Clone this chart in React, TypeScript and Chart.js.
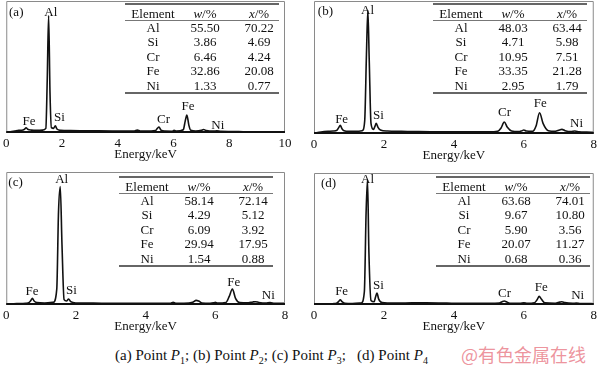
import React, { useEffect, useRef } from "react";
import { Chart, registerables } from "chart.js";

Chart.register(...registerables);

const FONT = "'Times New Roman', 'Liberation Serif', Times, 'Noto Serif', serif";

// ---------- spectra (energy in keV, intensity in % of panel height) ----------
const energyA = [0, 0.15, 0.3, 0.45, 0.6, 0.66, 0.71, 0.77, 0.9, 1.1, 1.3, 1.42, 1.47, 1.52, 1.57, 1.62, 1.7, 1.76, 1.82, 1.95, 2.3, 2.8, 3.3, 3.8, 4.3, 4.6, 4.7, 4.8, 5.0, 5.35, 5.42, 5.48, 5.55, 5.7, 5.95, 6.02, 6.1, 6.35, 6.42, 6.48, 6.55, 6.62, 6.8, 7.0, 7.08, 7.18, 7.45, 7.55, 7.7, 8.5, 9.2, 10];
const countsA = [0.3, 1.0, 1.5, 2.0, 2.3, 3.0, 4.0, 2.8, 2.2, 2.0, 2.2, 3.5, 40, 89, 30, 4, 3.5, 5.5, 3.0, 2.0, 1.8, 1.7, 1.6, 1.5, 1.4, 1.5, 2.2, 1.5, 1.4, 1.8, 3.5, 4.5, 2.2, 1.4, 1.3, 2.0, 1.4, 2.5, 9, 13.6, 6, 2, 1.5, 2.0, 2.6, 1.8, 1.4, 1.7, 1.2, 1.0, 0.8, 0.7];

const energyB = [0, 0.2, 0.4, 0.55, 0.66, 0.71, 0.75, 0.8, 0.86, 1.0, 1.2, 1.38, 1.45, 1.5, 1.54, 1.58, 1.63, 1.7, 1.74, 1.78, 1.83, 1.9, 2.1, 2.5, 3.0, 3.5, 4.0, 4.5, 5.0, 5.25, 5.35, 5.44, 5.53, 5.65, 5.85, 5.95, 6.0, 6.07, 6.25, 6.35, 6.45, 6.55, 6.7, 6.9, 7.02, 7.09, 7.18, 7.35, 7.46, 7.58, 7.8, 8];
const countsB = [0.5, 1.5, 2.0, 2.2, 3.0, 5.0, 6.5, 4.0, 2.5, 2.0, 2.0, 2.5, 10, 60, 93, 55, 8, 3.5, 5.5, 8, 5, 3, 2.2, 2, 1.8, 1.7, 1.6, 1.6, 1.6, 2.0, 4.5, 9, 5, 2.2, 1.8, 2.5, 3, 2.2, 2.0, 6, 16, 8, 2.5, 2.0, 3.0, 3.5, 2.5, 1.8, 2.2, 1.6, 1.4, 1.3];

const energyC = [0, 0.3, 0.55, 0.66, 0.71, 0.75, 0.8, 0.88, 1.1, 1.35, 1.45, 1.5, 1.55, 1.6, 1.66, 1.73, 1.79, 1.85, 2.0, 2.5, 3.0, 3.5, 4.0, 4.5, 4.72, 4.79, 4.86, 5.1, 5.35, 5.45, 5.52, 5.62, 5.85, 5.95, 6.0, 6.06, 6.3, 6.4, 6.49, 6.58, 6.7, 6.95, 7.08, 7.15, 7.25, 7.45, 7.57, 7.7, 8];
const countsC = [0.5, 1.0, 1.3, 2.0, 3.5, 5.0, 3.0, 1.8, 1.5, 2.0, 12, 70, 89, 45, 4, 3, 4.5, 2.5, 1.5, 1.4, 1.3, 1.3, 1.2, 1.2, 1.3, 2.0, 1.3, 1.3, 2.0, 3.5, 3.0, 1.5, 1.3, 1.6, 2.0, 1.4, 1.8, 6.5, 12, 5, 1.8, 1.6, 2.3, 2.5, 1.9, 1.4, 1.8, 1.3, 1.2];

const energyD = [0, 0.3, 0.55, 0.66, 0.71, 0.75, 0.8, 0.88, 1.1, 1.35, 1.44, 1.49, 1.53, 1.57, 1.63, 1.72, 1.76, 1.8, 1.85, 1.95, 2.3, 2.8, 3.2, 3.8, 4.4, 5.0, 5.3, 5.38, 5.44, 5.5, 5.6, 5.9, 6.0, 6.1, 6.3, 6.38, 6.44, 6.5, 6.6, 6.9, 7.03, 7.09, 7.17, 7.4, 7.5, 7.62, 8];
const countsD = [0.5, 0.9, 1.0, 1.6, 2.8, 4, 2.5, 1.3, 1.1, 1.5, 10, 70, 95, 40, 3.5, 2.5, 6, 9, 4.5, 1.8, 1.4, 1.6, 1.7, 1.4, 1.2, 1.2, 1.5, 2.5, 3, 2.4, 1.3, 1.2, 1.7, 1.2, 1.6, 4, 6.5, 4.5, 1.6, 1.3, 2.2, 2.5, 1.8, 1.2, 1.5, 1.1, 1.0];

// ---------- peak labels ----------
const peakTextA = ["Fe", "Al", "Si", "Cr", "Fe", "Ni"];
const peakEnergyA = [0.82, 1.6, 1.91, 5.64, 6.52, 7.59];
const peakHeightA = [8.3, 91, 11.4, 9.8, 19.7, 6];

const peakTextB = ["Fe", "Al", "Si", "Cr", "Fe", "Ni"];
const peakEnergyB = [0.79, 1.53, 1.84, 5.45, 6.47, 7.51];
const peakHeightB = [10.5, 93, 13.5, 15.8, 23, 8];

const peakTextC = ["Fe", "Al", "Si", "Fe", "Ni"];
const peakEnergyC = [0.74, 1.59, 1.87, 6.53, 7.52];
const peakHeightC = [9.8, 94, 10.5, 17, 6.8];

const peakTextD = ["Fe", "Al", "Si", "Cr", "Fe", "Ni"];
const peakEnergyD = [0.79, 1.53, 1.84, 5.45, 6.5, 7.54];
const peakHeightD = [10, 95, 14.4, 9, 13, 6.8];

// ---------- composition tables ----------
const elements = ["Al", "Si", "Cr", "Fe", "Ni"];
const massA = ["55.50", "3.86", "6.46", "32.86", "1.33"];
const moleA = ["70.22", "4.69", "4.24", "20.08", "0.77"];
const massB = ["48.03", "4.71", "10.95", "33.35", "2.95"];
const moleB = ["63.44", "5.98", "7.51", "21.28", "1.79"];
const massC = ["58.14", "4.29", "6.09", "29.94", "1.54"];
const moleC = ["72.14", "5.12", "3.92", "17.95", "0.88"];
const massD = ["63.68", "9.67", "5.90", "20.07", "0.68"];
const moleD = ["74.01", "10.80", "3.56", "11.27", "0.36"];

const xTitle = "Energy/keV";

const framePlugin = {
  id: "frameBox",
  afterDraw(chart: any) {
    const { ctx, chartArea } = chart;
    const { left, top, right, bottom } = chartArea;
    ctx.save();
    ctx.strokeStyle = "#8a8a8a";
    ctx.lineWidth = 1;
    ctx.beginPath();
    ctx.moveTo(left + 0.5, bottom);
    ctx.lineTo(left + 0.5, top + 0.5);
    ctx.lineTo(right - 0.5, top + 0.5);
    ctx.lineTo(right - 0.5, bottom);
    ctx.stroke();
    ctx.strokeStyle = "#111";
    ctx.lineWidth = 2;
    ctx.beginPath();
    ctx.moveTo(left, bottom - 1);
    ctx.lineTo(right, bottom - 1);
    ctx.stroke();
    ctx.restore();
  },
};

const labelPlugin = {
  id: "peakLabels",
  afterDatasetsDraw(chart: any, _args: any, opts: any) {
    const { ctx } = chart;
    const xs = chart.scales.x;
    const ys = chart.scales.y;
    ctx.save();
    ctx.font = `13px ${FONT}`;
    ctx.fillStyle = "#111";
    ctx.textBaseline = "middle";
    ctx.textAlign = "center";
    (opts.texts || []).forEach((t: string, i: number) => {
      ctx.fillText(t, xs.getPixelForValue(opts.energies[i]), ys.getPixelForValue(opts.heights[i]));
    });
    ctx.textAlign = "left";
    ctx.fillText(opts.tag, xs.getPixelForValue(opts.tagE), ys.getPixelForValue(opts.tagH));
    ctx.restore();
  },
};

type PanelProps = {
  left: number;
  top: number;
  pad: { left: number; right: number; top: number; bottom: number };
  xMax: number;
  energy: number[];
  counts: number[];
  texts: string[];
  energies: number[];
  heights: number[];
  tag: string;
  tagE: number;
  tagH: number;
};

function Panel(p: PanelProps) {
  const ref = useRef<HTMLCanvasElement | null>(null);
  useEffect(() => {
    if (!ref.current) return;
    const data = p.energy.map((e, i) => ({ x: e, y: p.counts[i] }));
    const chart = new Chart(ref.current, {
      type: "line",
      data: {
        datasets: [
          {
            data,
            borderColor: "#111",
            borderWidth: 1.6,
            pointRadius: 0,
            fill: false,
            cubicInterpolationMode: "monotone",
          },
        ],
      },
      options: {
        animation: false,
        responsive: false,
        events: [],
        layout: { padding: p.pad },
        plugins: {
          legend: { display: false },
          tooltip: { enabled: false },
          peakLabels: {
            texts: p.texts,
            energies: p.energies,
            heights: p.heights,
            tag: p.tag,
            tagE: p.tagE,
            tagH: p.tagH,
          },
        } as any,
        scales: {
          x: {
            type: "linear",
            min: 0,
            max: p.xMax,
            border: { display: false },
            grid: { display: false, drawTicks: false },
            ticks: {
              stepSize: 2,
              maxRotation: 0,
              padding: 3,
              color: "#111",
              font: { family: FONT, size: 13 },
            },
            title: {
              display: true,
              text: xTitle,
              color: "#111",
              font: { family: FONT, size: 13 },
              padding: { top: 0, bottom: 1 },
            },
            afterFit: (s: any) => {
              s.height = 30;
            },
          },
          y: {
            display: false,
            min: 0,
            max: 100,
          },
        },
      },
      plugins: [framePlugin, labelPlugin],
    });
    return () => chart.destroy();
  }, []);
  return (
    <canvas
      ref={ref}
      width={300}
      height={168}
      style={{ position: "absolute", left: p.left, top: p.top, width: 300, height: 168 }}
    />
  );
}

const colX = [28, 80, 134];
const rowY = [9.5, 23.5, 38, 52.5, 67, 81.5];

function Table({ left, top, mass, mole }: { left: number; top: number; mass: string[]; mole: string[] }) {
  const cell = (content: React.ReactNode, cx: number, cy: number, key: string) => (
    <span
      key={key}
      style={{
        position: "absolute",
        left: cx,
        top: cy,
        transform: "translate(-50%, -50%)",
        whiteSpace: "nowrap",
        lineHeight: "14px",
      }}
    >
      {content}
    </span>
  );
  const items: React.ReactNode[] = [];
  items.push(cell("Element", colX[0], rowY[0], "h0"));
  items.push(cell(<><i>w</i>/%</>, colX[1], rowY[0], "h1"));
  items.push(cell(<><i>x</i>/%</>, colX[2], rowY[0], "h2"));
  elements.forEach((el, i) => {
    items.push(cell(el, colX[0], rowY[i + 1], "e" + i));
    items.push(cell(mass[i], colX[1], rowY[i + 1], "m" + i));
    items.push(cell(mole[i], colX[2], rowY[i + 1], "x" + i));
  });
  return (
    <div
      style={{
        position: "absolute",
        left,
        top,
        width: 154,
        height: 89,
        fontFamily: FONT,
        fontSize: 13,
        color: "#111",
      }}
    >
      <div style={{ position: "absolute", left: 0, top: -1, width: 154, height: 2, background: "#666" }} />
      <div style={{ position: "absolute", left: 0, top: 16, width: 154, height: 1, background: "#777" }} />
      <div style={{ position: "absolute", left: 0, top: 88, width: 154, height: 2, background: "#666" }} />
      {items}
    </div>
  );
}

export default function App() {
  const sub = { fontSize: 10, lineHeight: "0" } as React.CSSProperties;
  return (
    <div
      style={{
        position: "absolute",
        left: 0,
        top: 0,
        width: 600,
        height: 369,
        background: "#fff",
        overflow: "hidden",
      }}
    >
      <Panel
        left={0}
        top={0}
        pad={{ left: 3, right: 15, top: 1, bottom: 5 }}
        xMax={10}
        energy={energyA}
        counts={countsA}
        texts={peakTextA}
        energies={peakEnergyA}
        heights={peakHeightA}
        tag="(a)"
        tagE={0.1}
        tagH={91}
      />
      <Panel
        left={300}
        top={0}
        pad={{ left: 14, right: 3, top: 1, bottom: 4 }}
        xMax={8}
        energy={energyB}
        counts={countsB}
        texts={peakTextB}
        energies={peakEnergyB}
        heights={peakHeightB}
        tag="(b)"
        tagE={0.11}
        tagH={92}
      />
      <Panel
        left={0}
        top={170}
        pad={{ left: 3, right: 15, top: 2, bottom: 3 }}
        xMax={8}
        energy={energyC}
        counts={countsC}
        texts={peakTextC}
        energies={peakEnergyC}
        heights={peakHeightC}
        tag="(c)"
        tagE={0.06}
        tagH={92}
      />
      <Panel
        left={300}
        top={170}
        pad={{ left: 14, right: 3, top: 3, bottom: 3 }}
        xMax={8}
        energy={energyD}
        counts={countsD}
        texts={peakTextD}
        energies={peakEnergyD}
        heights={peakHeightD}
        tag="(d)"
        tagE={0.2}
        tagH={92}
      />
      <Table left={125} top={4} mass={massA} mole={moleA} />
      <Table left={433} top={4} mass={massB} mole={moleB} />
      <Table left={119} top={177} mass={massC} mole={moleC} />
      <Table left={436} top={177} mass={massD} mole={moleD} />
      <div
        style={{
          position: "absolute",
          left: 115,
          top: 345,
          fontFamily: FONT,
          fontSize: 15,
          lineHeight: "20px",
          color: "#111",
          whiteSpace: "pre",
        }}
      >
        (a) Point <i>P</i>
        <sub style={sub}>1</sub>; (b) Point <i>P</i>
        <sub style={sub}>2</sub>; (c) Point <i>P</i>
        <sub style={sub}>3</sub>;{"   "}(d) Point <i>P</i>
        <sub style={sub}>4</sub>
      </div>
      <div
        style={{
          position: "absolute",
          left: 461,
          top: 342,
          fontFamily: "'Noto Sans CJK SC', sans-serif",
          fontSize: 18,
          lineHeight: "24px",
          color: "rgba(232,120,132,0.8)",
          whiteSpace: "nowrap",
        }}
      >
        @有色金属在线
      </div>
    </div>
  );
}
